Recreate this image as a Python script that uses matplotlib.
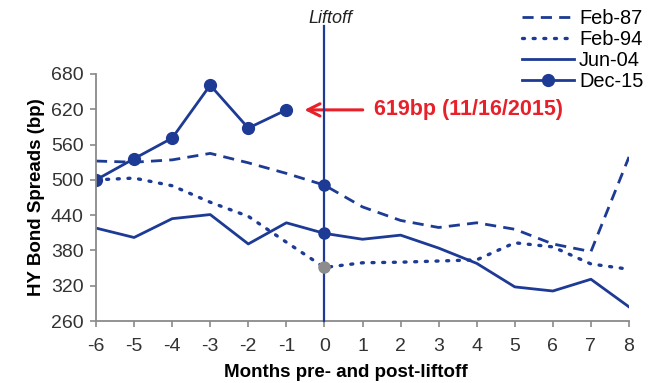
import matplotlib
matplotlib.use("Agg")
import matplotlib.pyplot as plt

plt.rcParams['font.family'] = ['Liberation Sans', 'DejaVu Sans']

months = [-6, -5, -4, -3, -2, -1, 0, 1, 2, 3, 4, 5, 6, 7, 8]
feb87 = [532, 530, 534, 545, 529, 511, 491, 454, 431, 419, 427, 416, 391, 378, 539]
feb94 = [500, 503, 490, 462, 438, 394, 351, 359, 360, 362, 364, 393, 386, 357, 348]
jun04 = [418, 402, 434, 441, 391, 427, 409, 399, 406, 384, 358, 318, 311, 331, 284]
dec15_months = [-6, -5, -4, -3, -2, -1]
dec15 = [500, 536, 571, 661, 588, 619]
yticks = [260, 320, 380, 440, 500, 560, 620, 680]
xticks = list(range(-6, 9))
series_labels = ['Feb-87', 'Feb-94', 'Jun-04', 'Dec-15']
annot_text = '619bp (11/16/2015)'

navy = '#1d3a94'
red = '#e8202a'
grey = '#8c8c8c'

fig = plt.figure(figsize=(6.58, 3.83), dpi=100)
ax = fig.add_axes([96/658, 1-321/383, (629-96)/658, (321-74)/383])

l1, = ax.plot(months, feb87, color=navy, lw=2.0, dashes=(4, 2.6), label=series_labels[0])
l2, = ax.plot(months, feb94, color=navy, lw=2.4, linestyle=(0, (0.6, 2.6)),
              dash_capstyle='round', label=series_labels[1])
l3, = ax.plot(months, jun04, color=navy, lw=2.0, label=series_labels[2])
l4, = ax.plot(dec15_months, dec15, color=navy, lw=2.0, marker='o', markersize=8.5,
              label=series_labels[3])

i0 = months.index(0)
ax.plot([0], [feb87[i0]], 'o', color=navy, markersize=8, zorder=5)
ax.plot([0], [jun04[i0]], 'o', color=navy, markersize=8, zorder=5)
ax.plot([0], [feb94[i0]], 'o', color=grey, markersize=8, zorder=5)

ax.axvline(0, ymin=0, ymax=(321-26)/(321-74), color=navy, lw=1.6, clip_on=False, zorder=4)
ax.text(0.15, 680 + (74-19)/((321-74)/420), 'Liftoff', style='italic', ha='center', va='center',
        fontsize=13, color='#222222')

ax.annotate('', xy=(-0.6, dec15[-1]), xytext=(1.08, dec15[-1]),
            arrowprops=dict(arrowstyle='->', color=red, lw=2.2, mutation_scale=22))
ax.text(1.3, dec15[-1], annot_text, color=red, fontsize=15.5, fontweight='bold',
        ha='left', va='center')

ax.set_xlim(-6, 8)
ax.set_ylim(260, 680)
ax.set_xticks(xticks)
ax.set_xticklabels([str(v) for v in xticks])
ax.set_yticks(yticks)
ax.spines['top'].set_visible(False)
ax.spines['right'].set_visible(False)
for s in ['left', 'bottom']:
    ax.spines[s].set_color('#8a8a8a')
    ax.spines[s].set_linewidth(1.3)
ax.tick_params(axis='both', colors='#8a8a8a', length=4, width=1.2, labelsize=14,
               labelcolor='#333333')
ax.tick_params(axis='y', pad=5)
ax.tick_params(axis='x', pad=8)

ax.set_ylabel('HY Bond Spreads (bp)', fontsize=13.5, fontweight='bold', labelpad=4)
ax.set_xlabel('Months pre- and post-liftoff', fontsize=13.5, fontweight='bold')
ax.xaxis.set_label_coords((346-96)/533, -(364-321)/247, transform=ax.transAxes)
ax.xaxis.label.set_va('top')

leg = fig.legend(handles=[l1, l2, l3, l4], loc='upper left',
                 bbox_to_anchor=(522/658, 1-9/383), frameon=False, fontsize=14.4,
                 handlelength=2.6, handletextpad=0.25, labelspacing=0.1,
                 borderpad=0, borderaxespad=0)

fig.savefig('out.png', dpi=100)
